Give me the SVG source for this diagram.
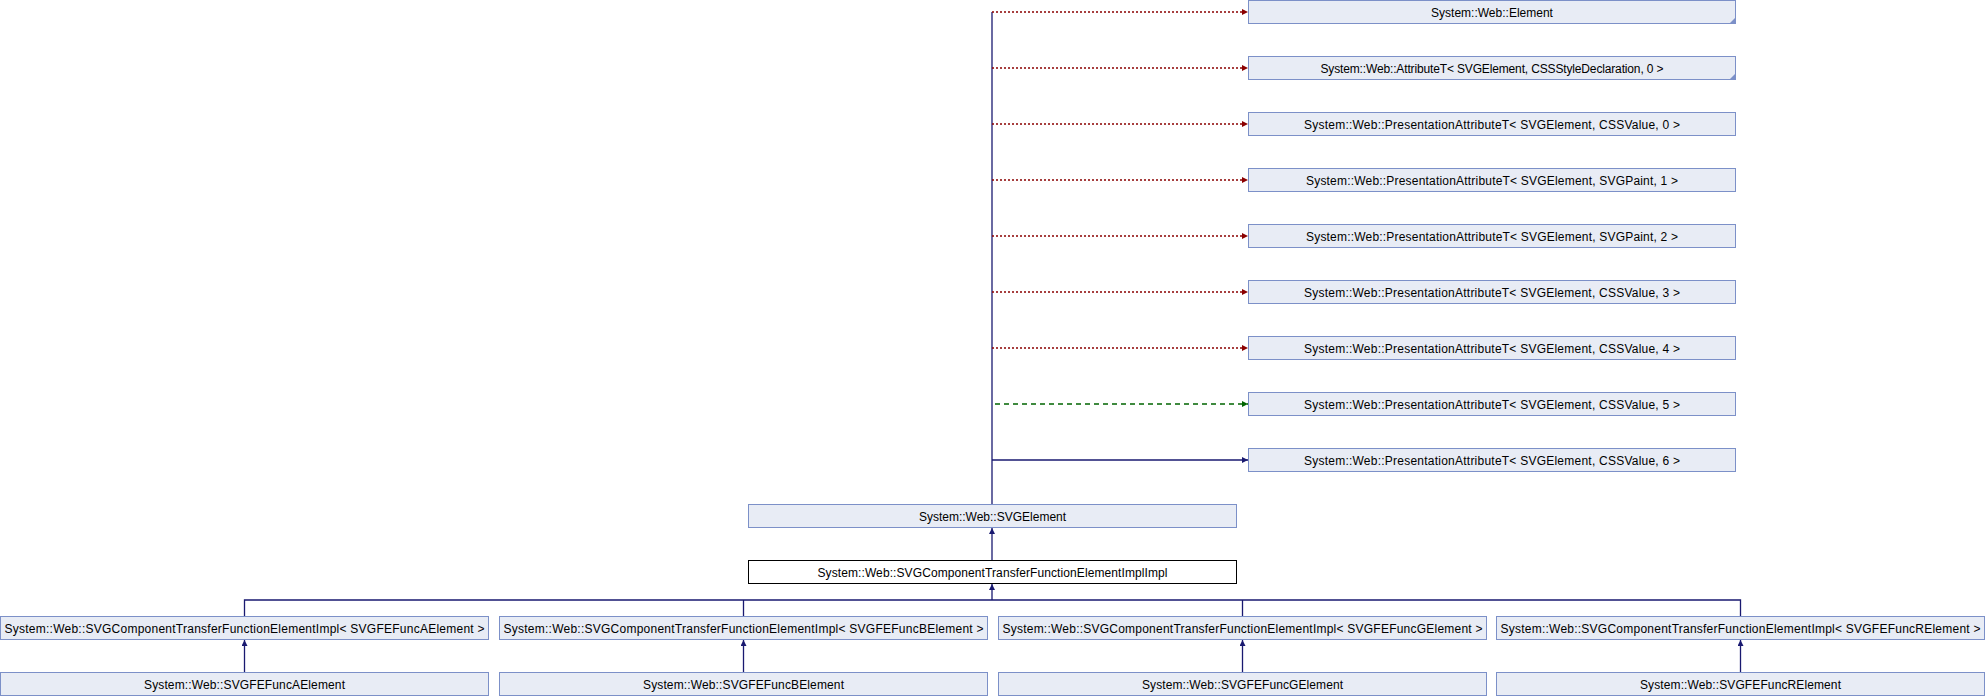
<svg xmlns="http://www.w3.org/2000/svg" width="1986" height="696" viewBox="0 0 1986 696">
<style>
.n rect{fill:#E8ECF5;stroke:#7C90C8;stroke-width:1}
.n.cur rect{fill:#FFFFFF;stroke:#000000}
.n text{font-family:"Liberation Sans",Arial,sans-serif;font-size:12px;fill:#000;text-anchor:middle}
.fold{fill:#7C90C8}
.pub{stroke:#191970;stroke-width:1.3;fill:none}
.priv{stroke:#8B0000;stroke-width:1.3;fill:none;stroke-dasharray:2,2}
.prot{stroke:#006400;stroke-width:1.3;fill:none;stroke-dasharray:5,4}
</style>
<defs>
<marker id="aB" markerUnits="userSpaceOnUse" markerWidth="7" markerHeight="7" refX="6" refY="3" orient="auto"><path d="M0,0 L6,3 L0,6 z" fill="#191970"/></marker>
<marker id="aR" markerUnits="userSpaceOnUse" markerWidth="7" markerHeight="7" refX="6" refY="3" orient="auto"><path d="M0,0 L6,3 L0,6 z" fill="#8B0000"/></marker>
<marker id="aG" markerUnits="userSpaceOnUse" markerWidth="7" markerHeight="7" refX="6" refY="3" orient="auto"><path d="M0,0 L6,3 L0,6 z" fill="#006400"/></marker>
</defs>
<rect width="1986" height="696" fill="#FFFFFF"/>
<g id="connectors">
<line class="pub" x1="992" y1="505" x2="992" y2="12"/>
<line class="priv" x1="992" y1="12" x2="1248" y2="12" marker-end="url(#aR)"/>
<line class="priv" x1="992" y1="68" x2="1248" y2="68" marker-end="url(#aR)"/>
<line class="priv" x1="992" y1="124" x2="1248" y2="124" marker-end="url(#aR)"/>
<line class="priv" x1="992" y1="180" x2="1248" y2="180" marker-end="url(#aR)"/>
<line class="priv" x1="992" y1="236" x2="1248" y2="236" marker-end="url(#aR)"/>
<line class="priv" x1="992" y1="292" x2="1248" y2="292" marker-end="url(#aR)"/>
<line class="priv" x1="992" y1="348" x2="1248" y2="348" marker-end="url(#aR)"/>
<line class="prot" x1="995" y1="404" x2="1248" y2="404" marker-end="url(#aG)"/>
<line class="pub" x1="992" y1="460" x2="1248" y2="460" marker-end="url(#aB)"/>
<line class="pub" x1="992" y1="560" x2="992" y2="528" marker-end="url(#aB)"/>
<path class="pub" d="M244.5,616 V600 H1740.5 V616 M743.5,616 V600 M1242.5,616 V600"/>
<line class="pub" x1="992" y1="600" x2="992" y2="584" marker-end="url(#aB)"/>
<line class="pub" x1="244.5" y1="672" x2="244.5" y2="640" marker-end="url(#aB)"/>
<line class="pub" x1="743.5" y1="672" x2="743.5" y2="640" marker-end="url(#aB)"/>
<line class="pub" x1="1242.5" y1="672" x2="1242.5" y2="640" marker-end="url(#aB)"/>
<line class="pub" x1="1740.5" y1="672" x2="1740.5" y2="640" marker-end="url(#aB)"/>
</g>
<g id="node_element" class="n"><rect x="1248.5" y="0.5" width="487" height="23"/><polygon class="fold" points="1729.5,23.5 1735.5,17.5 1735.5,23.5"/><text x="1492" y="16.5">System::Web::Element</text></g>
<g id="node_attr" class="n"><rect x="1248.5" y="56.5" width="487" height="23"/><polygon class="fold" points="1729.5,79.5 1735.5,73.5 1735.5,79.5"/><text x="1492" y="72.5" textLength="343" lengthAdjust="spacing">System::Web::AttributeT&lt; SVGElement, CSSStyleDeclaration, 0 &gt;</text></g>
<g id="node_pa0" class="n"><rect x="1248.5" y="112.5" width="487" height="23"/><text x="1492" y="128.5" textLength="376" lengthAdjust="spacing">System::Web::PresentationAttributeT&lt; SVGElement, CSSValue, 0 &gt;</text></g>
<g id="node_pa1" class="n"><rect x="1248.5" y="168.5" width="487" height="23"/><text x="1492" y="184.5" textLength="372" lengthAdjust="spacing">System::Web::PresentationAttributeT&lt; SVGElement, SVGPaint, 1 &gt;</text></g>
<g id="node_pa2" class="n"><rect x="1248.5" y="224.5" width="487" height="23"/><text x="1492" y="240.5" textLength="372" lengthAdjust="spacing">System::Web::PresentationAttributeT&lt; SVGElement, SVGPaint, 2 &gt;</text></g>
<g id="node_pa3" class="n"><rect x="1248.5" y="280.5" width="487" height="23"/><text x="1492" y="296.5" textLength="376" lengthAdjust="spacing">System::Web::PresentationAttributeT&lt; SVGElement, CSSValue, 3 &gt;</text></g>
<g id="node_pa4" class="n"><rect x="1248.5" y="336.5" width="487" height="23"/><text x="1492" y="352.5" textLength="376" lengthAdjust="spacing">System::Web::PresentationAttributeT&lt; SVGElement, CSSValue, 4 &gt;</text></g>
<g id="node_pa5" class="n"><rect x="1248.5" y="392.5" width="487" height="23"/><text x="1492" y="408.5" textLength="376" lengthAdjust="spacing">System::Web::PresentationAttributeT&lt; SVGElement, CSSValue, 5 &gt;</text></g>
<g id="node_pa6" class="n"><rect x="1248.5" y="448.5" width="487" height="23"/><text x="1492" y="464.5" textLength="376" lengthAdjust="spacing">System::Web::PresentationAttributeT&lt; SVGElement, CSSValue, 6 &gt;</text></g>
<g id="node_svgelement" class="n"><rect x="748.5" y="504.5" width="488" height="23"/><text x="992.5" y="520.5">System::Web::SVGElement</text></g>
<g id="node_implimpl" class="n cur"><rect x="748.5" y="560.5" width="488" height="23"/><text x="992.5" y="576.5" textLength="350" lengthAdjust="spacing">System::Web::SVGComponentTransferFunctionElementImplImpl</text></g>
<g id="node_impl_a" class="n"><rect x="0.5" y="616.5" width="488" height="23"/><text x="244.5" y="632.5" textLength="480" lengthAdjust="spacing">System::Web::SVGComponentTransferFunctionElementImpl&lt; SVGFEFuncAElement &gt;</text></g>
<g id="node_impl_b" class="n"><rect x="499.5" y="616.5" width="488" height="23"/><text x="743.5" y="632.5" textLength="480" lengthAdjust="spacing">System::Web::SVGComponentTransferFunctionElementImpl&lt; SVGFEFuncBElement &gt;</text></g>
<g id="node_impl_g" class="n"><rect x="998.5" y="616.5" width="488" height="23"/><text x="1242.5" y="632.5" textLength="480" lengthAdjust="spacing">System::Web::SVGComponentTransferFunctionElementImpl&lt; SVGFEFuncGElement &gt;</text></g>
<g id="node_impl_r" class="n"><rect x="1496.5" y="616.5" width="488" height="23"/><text x="1740.5" y="632.5" textLength="480" lengthAdjust="spacing">System::Web::SVGComponentTransferFunctionElementImpl&lt; SVGFEFuncRElement &gt;</text></g>
<g id="node_func_a" class="n"><rect x="0.5" y="672.5" width="488" height="23"/><text x="244.5" y="688.5" textLength="201" lengthAdjust="spacing">System::Web::SVGFEFuncAElement</text></g>
<g id="node_func_b" class="n"><rect x="499.5" y="672.5" width="488" height="23"/><text x="743.5" y="688.5" textLength="201" lengthAdjust="spacing">System::Web::SVGFEFuncBElement</text></g>
<g id="node_func_g" class="n"><rect x="998.5" y="672.5" width="488" height="23"/><text x="1242.5" y="688.5" textLength="201" lengthAdjust="spacing">System::Web::SVGFEFuncGElement</text></g>
<g id="node_func_r" class="n"><rect x="1496.5" y="672.5" width="488" height="23"/><text x="1740.5" y="688.5" textLength="201" lengthAdjust="spacing">System::Web::SVGFEFuncRElement</text></g>
</svg>
